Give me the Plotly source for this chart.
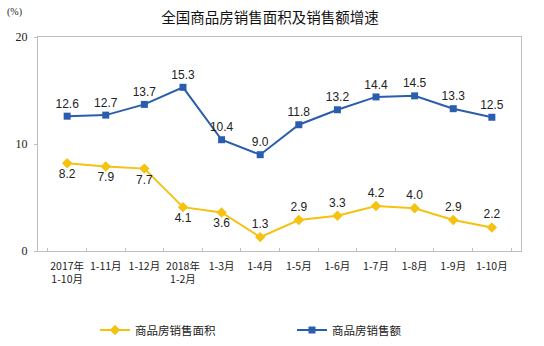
import plotly.graph_objects as go

# Cumulative periods (Oct 2017 – Oct 2018)
periods = ["2017年<br>1-10月", "1-11月", "1-12月", "2018年<br>1-2月", "1-3月", "1-4月",
           "1-5月", "1-6月", "1-7月", "1-8月", "1-9月", "1-10月"]
# Year-on-year growth (%)
area_growth = [8.2, 7.9, 7.7, 4.1, 3.6, 1.3, 2.9, 3.3, 4.2, 4.0, 2.9, 2.2]
sales_growth = [12.6, 12.7, 13.7, 15.3, 10.4, 9.0, 11.8, 13.2, 14.4, 14.5, 13.3, 12.5]
y_ticks = [0, 10, 20]

YELLOW = "#F4C20F"
BLUE = "#2B5DAE"
CJK = "Noto Sans CJK SC"
NUM = "Liberation Sans, Arial"

# value labels: the area series sits below its points early on, above later
area_pos = ["bottom center"] * 5 + ["top center"] * 7

fig = go.Figure()
fig.add_trace(go.Scatter(
    x=periods, y=area_growth, name="商品房销售面积",
    mode="lines+markers+text",
    line=dict(color=YELLOW, width=2),
    marker=dict(symbol="diamond", size=8, color=YELLOW),
    text=[f"{v:.1f}" for v in area_growth], textposition=area_pos,
    textfont=dict(family=NUM, size=12, color="#222"),
    legend="legend",
))
fig.add_trace(go.Scatter(
    x=periods, y=sales_growth, name="商品房销售额",
    mode="lines+markers+text",
    line=dict(color=BLUE, width=2),
    marker=dict(symbol="square", size=7, color=BLUE),
    text=[f"{v:.1f}" for v in sales_growth], textposition="top center",
    textfont=dict(family=NUM, size=12, color="#222"),
    legend="legend2",
))

legend_common = dict(
    orientation="h", xref="container", yref="container",
    xanchor="left", yanchor="middle", y=1 - 330 / 346,
    font=dict(family=CJK, size=11.5, color="#222"),
    bgcolor="rgba(0,0,0,0)", itemwidth=30,
)

fig.update_layout(
    width=544, height=346,
    margin=dict(l=38, r=23, t=37, b=95),
    paper_bgcolor="white", plot_bgcolor="white",
    title=dict(text="全国商品房销售面积及销售额增速", x=270 / 544, xanchor="center",
               xref="container", y=1 - 18 / 346, yanchor="middle",
               font=dict(family=CJK, size=14.5, color="#111")),
    showlegend=True,
    legend=dict(x=95 / 544, **legend_common),
    legend2=dict(x=292 / 544, **legend_common),
    xaxis=dict(
        type="category", showline=True, linecolor="#BFBFBF", linewidth=1,
        mirror=True, ticks="inside", tickson="boundaries", ticklen=3,
        tickcolor="#BFBFBF", showgrid=False, tickangle=0,
        ticklabelstandoff=5,
        tickfont=dict(family=CJK, size=10.5, color="#222"),
    ),
    yaxis=dict(
        range=[0, 20], tickvals=y_ticks, showline=True, linecolor="#BFBFBF",
        linewidth=1, mirror=True, showgrid=False, zeroline=False,
        ticks="outside", ticklen=3, tickcolor="#BFBFBF",
        ticklabelstandoff=4,
        tickfont=dict(family="Liberation Serif, Times New Roman", size=12, color="#222"),
    ),
)

fig.add_annotation(text="(%)", xref="paper", yref="paper",
                   x=-24 / 483, y=1 + 25 / 214, xanchor="center", yanchor="middle",
                   showarrow=False,
                   font=dict(family="Liberation Serif", size=10, color="#222"))

fig.write_html("out.html")
